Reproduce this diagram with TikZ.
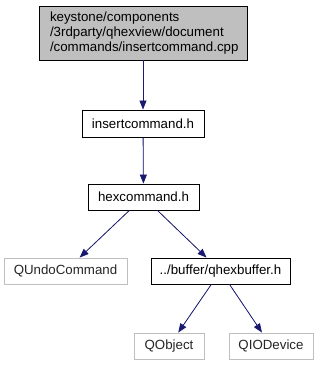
\documentclass[tikz,border=0pt]{standalone}
\usepackage{fontspec}
\setmainfont{Liberation Sans}
\usetikzlibrary{arrows.meta}
\definecolor{edgeblue}{HTML}{191970}
\definecolor{topfill}{HTML}{BFBFBF}
\definecolor{graybd}{HTML}{BFBFBF}
\tikzset{
  filebox/.style={draw=black, line width=0.9pt, fill=white, inner sep=0pt, font=\fontsize{13.3}{15}\selectfont},
  extbox/.style={draw=graybd, line width=0.9pt, fill=white, inner sep=0pt, text=black!85, font=\fontsize{13.3}{15}\selectfont},
  dep/.style={draw=edgeblue, line width=0.8pt, -{Triangle[length=9pt,width=7pt]}, fill=edgeblue}
}
\begin{document}
\begin{tikzpicture}[x=1pt,y=-1pt]
\useasboundingbox (0,0) rectangle (318,365);
\node[filebox, fill=topfill, minimum width=208pt, minimum height=54pt, align=left, text width=186pt, font=\fontsize{13.3}{15}\selectfont] (top) at (143,33) {keystone/components\\/3rdparty/qhexview/document\\/commands/insertcommand.cpp};
\node[filebox, minimum width=122pt, minimum height=27pt] (ins) at (143,123.5) {insertcommand.h};
\node[filebox, minimum width=111pt, minimum height=26pt] (hex) at (143.5,197) {hexcommand.h};
\node[extbox, minimum width=123pt, minimum height=26pt] (undo) at (65.5,271) {QUndoCommand};
\node[filebox, minimum width=139pt, minimum height=26pt] (qhb) at (220.5,271) {../buffer/qhexbuffer.h};
\node[extbox, minimum width=70pt, minimum height=26pt] (qobj) at (169,346) {QObject};
\node[extbox, minimum width=84pt, minimum height=26pt] (qio) at (271,346) {QIODevice};
\draw[dep] (top) -- (ins);
\draw[dep] (ins) -- (hex);
\draw[dep] (hex) -- (undo);
\draw[dep] (hex) -- (qhb);
\draw[dep] (qhb) -- (qobj);
\draw[dep] (qhb) -- (qio);
\end{tikzpicture}
\end{document}
